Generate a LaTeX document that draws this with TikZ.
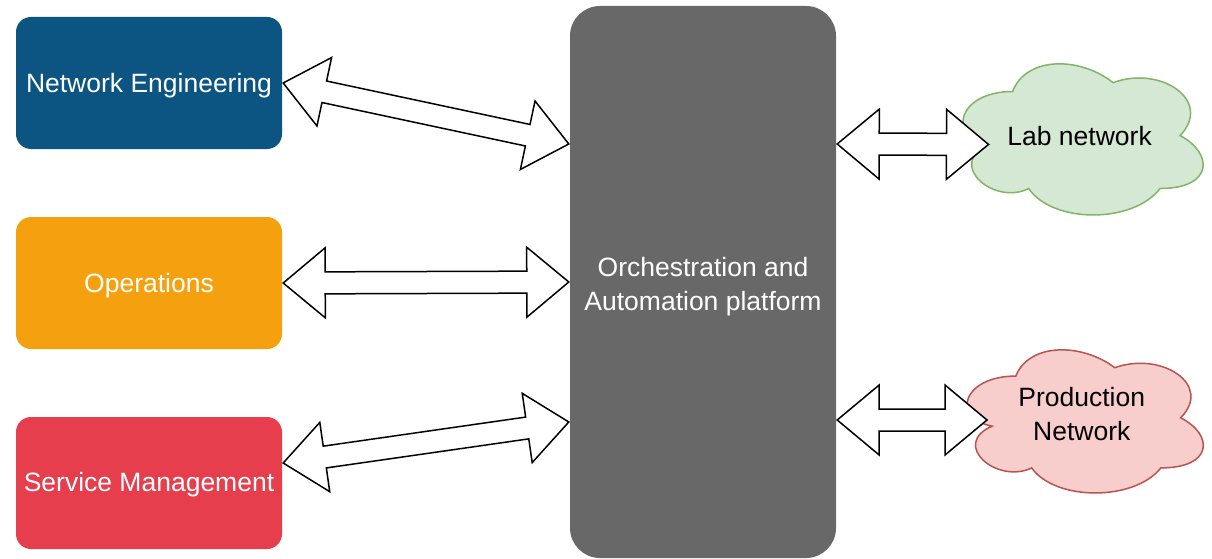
\documentclass[tikz,border=0pt]{standalone}
\usepackage{fontspec}
\setmainfont{Liberation Sans}
\usetikzlibrary{calc}
\definecolor{neblue}{RGB}{12,84,130}
\definecolor{opsorange}{RGB}{245,161,15}
\definecolor{smred}{RGB}{230,62,76}
\definecolor{orchgray}{RGB}{104,104,104}
\definecolor{labfill}{HTML}{D5E8D4}
\definecolor{labline}{HTML}{82B366}
\definecolor{prodfill}{HTML}{F8CECC}
\definecolor{prodline}{HTML}{B85450}
\newcommand{\myflexarrow}[2]{%
  \draw[flex] let \p1=($(#2)-(#1)$), \n1={atan2(\y1,\x1)}, \n2={veclen(\x1,\y1)} in
  [shift={(#1)}, rotate=\n1] (0,0) -- (42,-35) -- (42,-11) -- ({\n2-42},-11) -- ({\n2-42},-35)
  -- (\n2,0) -- ({\n2-42},35) -- ({\n2-42},11) -- (42,11) -- (42,35) -- cycle;}
\newcommand{\mycloudpath}{(0.25,0.25) .. controls (0.05,0.25) and (0,0.5) .. (0.16,0.55)
  .. controls (0,0.66) and (0.18,0.9) .. (0.31,0.8)
  .. controls (0.4,1) and (0.7,1) .. (0.8,0.8)
  .. controls (1,0.8) and (1,0.6) .. (0.875,0.5)
  .. controls (1,0.3) and (0.8,0.1) .. (0.625,0.2)
  .. controls (0.5,0.05) and (0.3,0.05) .. (0.25,0.25) -- cycle}
\begin{document}
\begin{tikzpicture}[x=1pt,y=-1pt,
  box/.style={draw=none, rounded corners=15pt, minimum width=266pt, minimum height=132pt,
    inner sep=0pt},
  boxtext/.style={text=white, font=\fontsize{26.5}{34}\selectfont, align=center, inner sep=0pt},
  cloudtext/.style={text=black, font=\fontsize{26.5}{34}\selectfont, align=center, inner sep=0pt},
  flex/.style={draw=black, fill=white, line width=1.5pt, line join=miter},
  cloudline/.style={line width=1.5pt}
]
\useasboundingbox (0,0) rectangle (1212,559);
\fill[white] (0,0) rectangle (1212,559);
\node[box, fill=neblue] (ne) at (149,83) {};
\node[boxtext] (nelabel) at ([yshift=-3pt]ne.center) {Network Engineering};
\node[box, fill=opsorange] (ops) at (149,283) {};
\node[boxtext] (opslabel) at ([yshift=-3pt]ops.center) {Operations};
\node[box, fill=smred] (sm) at (149,483) {};
\node[boxtext] (smlabel) at ([yshift=-2pt]sm.center) {Service Management};
\node[box, fill=orchgray, rounded corners=30pt, minimum height=552pt] (orch) at (703,282) {};
\node[boxtext] (orchlabel) at ([yshift=-5pt]orch.center) {Orchestration and\\Automation platform};
\begin{scope}[shift={(945.6,47.4)}, x=268pt, y=-176.4pt]
  \filldraw[cloudline, fill=labfill, draw=labline] \mycloudpath;
  \coordinate (labin) at (0.16,0.55);
  \node[cloudtext] (lab) at (0.5,0.5) {Lab network};
\end{scope}
\begin{scope}[shift={(949.9,334.3)}, x=263.7pt, y=-167pt]
  \filldraw[cloudline, fill=prodfill, draw=prodline] \mycloudpath;
  \node[cloudtext] (prod) at (0.5,0.48) {Production\\Network};
\end{scope}
\coordinate (prodin) at (987,420);
\coordinate (a1s) at ([xshift=1pt]ne.east);
\coordinate (a1e) at ([yshift=138pt,xshift=-1pt]orch.west);
\coordinate (a2s) at ([xshift=1pt]ops.east);
\coordinate (a2e) at ([xshift=-1pt]orch.west);
\coordinate (a3s) at ([yshift=20pt,xshift=1pt]sm.east);
\coordinate (a3e) at ([yshift=-140pt,xshift=-1pt]orch.west);
\coordinate (a4s) at ([yshift=138pt,xshift=1pt]orch.east);
\coordinate (a5s) at ([yshift=-138pt,xshift=1pt]orch.east);
\myflexarrow{a1s}{a1e}
\myflexarrow{a2s}{a2e}
\myflexarrow{a3s}{a3e}
\myflexarrow{a4s}{labin}
\myflexarrow{a5s}{prodin}
\end{tikzpicture}
\end{document}
